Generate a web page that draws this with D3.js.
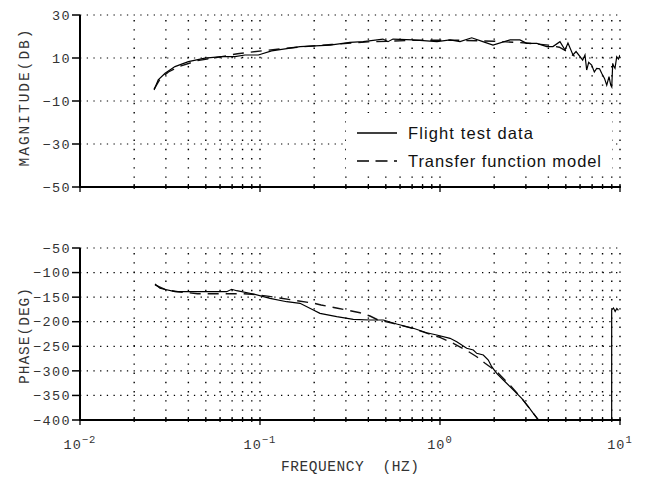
<!DOCTYPE html>
<html>
<head>
<meta charset="utf-8">
<script src="https://cdn.jsdelivr.net/npm/d3@7"></script>
<style>
  body { margin: 0; background: #fff; }
  svg { display: block; }
</style>
</head>
<body>
<script>
const wdth = 645;
const hght = 478;

// magnitude, flight test data (Hz, dB)
const magFreq = [0.0258, 0.0272, 0.0297, 0.0337, 0.0400, 0.0495, 0.0613, 0.0726, 0.0825, 0.0979,
  0.116, 0.144, 0.167, 0.245, 0.316, 0.374, 0.482, 0.514, 0.548, 0.708, 0.962, 1.137, 1.292,
  1.50, 1.73, 1.97, 2.45, 2.78, 3.03, 3.45, 3.92, 4.24, 4.64, 4.95, 5.14, 5.48, 5.7, 6.00, 6.2,
  6.39, 6.53, 6.7, 6.96, 7.2, 7.42, 7.7, 7.91, 8.2, 8.44, 8.69, 8.88, 9.0, 9.11, 9.25, 9.38,
  9.59, 9.8, 10];
const magFlight = [-4.9, -0.2, 2.9, 6.0, 8.3, 9.9, 10.6, 10.6, 11.4, 11.4,
  13.3, 14.5, 15.3, 16.0, 17.3, 17.6, 18.8, 17.6, 18.8, 18.4, 17.6, 18.4, 17.6,
  19.4, 17.6, 16.0, 18.4, 18.4, 16.8, 16.8, 15.3, 15.3, 17.6, 13.7, 17.0, 11.4, 13.0, 10.6, 9.0,
  11.4, 4.4, 8.0, 6.7, 3.5, 5.2, 5.0, 2.9, 0.5, -2.6, 1.3, -2.6, -3.5, 7.5, 6.0, 5.2,
  10.6, 9.5, 11.4];

// magnitude, transfer function model
const magModelFreq = [0.0258, 0.028, 0.031, 0.036, 0.045, 0.06, 0.075, 0.11, 0.15, 0.25, 0.4,
  0.7, 1.2, 2.0, 3.0, 4.0, 4.6, 5.2, 5.6];
const magModel = [-4.5, 0.5, 3.5, 6.2, 8.8, 10.5, 12.0, 13.6, 14.8, 16.3, 17.5,
  18.2, 18.3, 17.8, 17.0, 16.0, 15.0, 12.5, 10.8];

// phase, flight test data (Hz, deg)
const phaseFreq = [0.0261, 0.0278, 0.0337, 0.0483, 0.0653, 0.0696, 0.0742, 0.0918, 0.1137, 0.1407,
  0.1668, 0.1978, 0.2154, 0.2668, 0.3299, 0.4084, 0.4842, 0.5746, 0.7109, 0.8435, 0.9587, 1.137,
  1.2386, 1.407, 1.531, 1.600, 1.740, 1.855, 1.938, 2.065, 2.248, 2.448, 2.668, 2.844, 3.095,
  3.299, 3.503, 3.8, 4.5, 5.5, 6.5, 7.5, 8.5, 8.99, 8.99, 9.2, 9.4, 9.6, 9.8];
const phaseFlight = [-123.3, -132.0, -138.9, -138.9, -138.9, -134.0, -136.9, -143.6, -152.4, -159.3,
  -162.5, -176.2, -182.9, -189.8, -195.1, -196.5, -196.5, -204.7, -213.4, -222.4, -227.0, -233.8,
  -240.7, -254.1, -257.6, -264.3, -267.7, -277.9, -291.5, -305.0, -318.6, -332.2, -345.7, -355.9, -372.9,
  -386.3, -398.6, -420, -440, -470, -490, -510, -525, -540, -176, -172, -179, -173, -177];

// phase, transfer function model
const phaseModelFreq = [0.0261, 0.030, 0.035, 0.045, 0.06, 0.08, 0.09, 0.11, 0.20, 0.2185, 0.27,
  0.304, 0.3594, 0.4084, 0.45, 0.575, 0.711, 0.88, 1.0, 1.2, 1.407, 1.6, 1.78, 2.065, 2.448,
  2.844, 3.299, 3.50, 3.7];
const phaseModel = [-125, -135, -139, -143, -143, -143, -144, -148, -162.5, -166, -172.7,
  -176.2, -181.7, -188.4, -196, -205, -214, -225.5, -232, -245, -258.6, -271.2, -284.6, -301.7, -328.8,
  -355.9, -386.3, -398.6, -410];

const magTicks = [30, 10, -10, -30, -50];
const phaseTicks = [-50, -100, -150, -200, -250, -300, -350, -400];
const decadeTicks = [0.01, 0.1, 1, 10];
const decadeLabels = ["-2", "-1", "0", "1"];

const left = 80, right = 620;
const x = d3.scaleLog().domain([0.01, 10]).range([left, right]);
const yMag = d3.scaleLinear().domain([-50, 30]).range([187, 15]);
const yPhase = d3.scaleLinear().domain([-400, -50]).range([420, 248]);

// every 1..9 x 10^k position
const minorTicks = [];
[0.01, 0.1, 1].forEach(d => { for (let k = 1; k < 10; k++) minorTicks.push(d * k); });
minorTicks.push(10);

const svg = d3.select("body").append("svg")
  .attr("width", wdth)
  .attr("height", hght);

function drawPanel(id, y, ticks) {
  const g = svg.append("g");
  const [y0, y1] = y.range();

  // vertical dotted grid
  g.selectAll(".vgrid").data(minorTicks.slice(1)).enter()
    .append("line")
    .attr("x1", d => x(d)).attr("x2", d => x(d))
    .attr("y1", y0).attr("y2", y1)
    .attr("stroke", "#000")
    .attr("stroke-width", 1.4)
    .attr("stroke-dasharray", "1.4,7.8");

  // horizontal dotted grid (not on the bottom axis)
  g.selectAll(".hgrid").data(ticks.filter(d => d !== y.domain()[0])).enter()
    .append("line")
    .attr("x1", left).attr("x2", right)
    .attr("y1", d => y(d)).attr("y2", d => y(d))
    .attr("stroke", "#000")
    .attr("stroke-width", 1.2)
    .attr("stroke-dasharray", "1.3,5.4");

  g.append("clipPath").attr("id", id)
    .append("rect")
    .attr("x", left).attr("y", y1 - 2)
    .attr("width", right - left).attr("height", y0 - y1 + 2);

  return g;
}

function drawAxes(g, y, ticks, label, labelLen, labelY) {
  const [y0, y1] = y.range();
  // y axis
  g.append("line")
    .attr("x1", left).attr("x2", left)
    .attr("y1", y1).attr("y2", y0 + 1)
    .attr("stroke", "#000").attr("stroke-width", 2);
  g.selectAll(".ytick").data(ticks).enter()
    .append("line")
    .attr("x1", left - 8).attr("x2", left)
    .attr("y1", d => y(d)).attr("y2", d => y(d))
    .attr("stroke", "#000").attr("stroke-width", 1.5);
  g.selectAll(".ylab").data(ticks).enter()
    .append("text")
    .attr("x", left - 9)
    .attr("y", d => y(d))
    .attr("dy", "0.35em")
    .attr("text-anchor", "end")
    .style("font-family", "'Liberation Mono', 'DejaVu Sans Mono', monospace")
    .style("font-size", "13.5px")
    .style("letter-spacing", "1.4px")
    .attr("fill", "#333")
    .text(d => String(d).replace("-", "\u2212"));

  // x axis
  g.append("line")
    .attr("x1", left - 1).attr("x2", right + 1)
    .attr("y1", y0).attr("y2", y0)
    .attr("stroke", "#000").attr("stroke-width", 2);
  g.selectAll(".xtick").data(minorTicks).enter()
    .append("line")
    .attr("x1", d => x(d)).attr("x2", d => x(d))
    .attr("y1", y0 - 3)
    .attr("y2", d => decadeTicks.includes(d) ? y0 + 5 : y0 + 2)
    .attr("stroke", "#000").attr("stroke-width", 1.3);

  g.append("text")
    .attr("transform", `translate(29,${labelY}) rotate(-90)`)
    .attr("text-anchor", "middle")
    .attr("textLength", labelLen)
    .attr("lengthAdjust", "spacing")
    .style("font-family", "'Liberation Mono', 'DejaVu Sans Mono', monospace")
    .style("font-size", "14.5px")
    .attr("fill", "#333")
    .text(label);
}

const seriesLine = (fs, vs, y) => d3.line()
  .x((d, i) => x(fs[i]))
  .y(d => y(d))(vs);

// magnitude panel
const gMag = drawPanel("clipMag", yMag, magTicks);

// legend box
const legend = gMag.append("g");
legend.append("rect")
  .attr("x", 346).attr("y", 113)
  .attr("width", 266).attr("height", 61)
  .attr("fill", "#fff");

const legendData = [
  { name: "Flight test data", dash: null, y: 133, len: 125 },
  { name: "Transfer function model", dash: "12,6.5", y: 161, len: 193 }
];
legend.selectAll(".lline").data(legendData).enter()
  .append("line")
  .attr("x1", 357).attr("x2", 397)
  .attr("y1", d => d.y).attr("y2", d => d.y)
  .attr("stroke", "#000").attr("stroke-width", 1.4)
  .attr("stroke-dasharray", d => d.dash);
legend.selectAll(".ltext").data(legendData).enter()
  .append("text")
  .attr("x", 408).attr("y", d => d.y + 6)
  .attr("textLength", d => d.len)
  .attr("lengthAdjust", "spacing")
  .style("font-family", "'Liberation Sans', Arial, sans-serif")
  .style("font-size", "16.5px")
  .attr("fill", "#111")
  .text(d => d.name);

gMag.append("path")
  .attr("d", seriesLine(magModelFreq, magModel, yMag))
  .attr("clip-path", "url(#clipMag)")
  .attr("fill", "none").attr("stroke", "#111")
  .attr("stroke-width", 1.4).attr("stroke-dasharray", "11,7");
gMag.append("path")
  .attr("d", seriesLine(magFreq, magFlight, yMag))
  .attr("clip-path", "url(#clipMag)")
  .attr("fill", "none").attr("stroke", "#000")
  .attr("stroke-width", 1.2);
drawAxes(gMag, yMag, magTicks, "MAGNITUDE(DB)", 137, 98);

// phase panel
const gPh = drawPanel("clipPh", yPhase, phaseTicks);
gPh.append("path")
  .attr("d", seriesLine(phaseModelFreq, phaseModel, yPhase))
  .attr("clip-path", "url(#clipPh)")
  .attr("fill", "none").attr("stroke", "#111")
  .attr("stroke-width", 1.4).attr("stroke-dasharray", "11,7");
gPh.append("path")
  .attr("d", seriesLine(phaseFreq, phaseFlight, yPhase))
  .attr("clip-path", "url(#clipPh)")
  .attr("fill", "none").attr("stroke", "#000")
  .attr("stroke-width", 1.2);
drawAxes(gPh, yPhase, phaseTicks, "PHASE(DEG)", 96, 336);

// decade labels
const xl = svg.selectAll(".xlab").data(decadeTicks).enter()
  .append("text")
  .attr("x", d => x(d))
  .attr("y", 449)
  .attr("text-anchor", "middle")
  .style("font-family", "'Liberation Mono', 'DejaVu Sans Mono', monospace")
  .style("font-size", "13.5px")
  .style("letter-spacing", "1px")
  .attr("fill", "#333");
xl.append("tspan").text("10");
xl.append("tspan")
  .attr("dy", -6)
  .style("font-size", "10.5px")
  .text((d, i) => decadeLabels[i].replace("-", "\u2212"));

svg.append("text")
  .attr("x", 350).attr("y", 471)
  .attr("text-anchor", "middle")
  .attr("textLength", 138)
  .attr("lengthAdjust", "spacing")
  .style("font-family", "'Liberation Mono', 'DejaVu Sans Mono', monospace")
  .style("font-size", "14.5px")
  .style("white-space", "pre")
  .attr("fill", "#333")
  .text("FREQUENCY  (HZ)");
</script>
</body>
</html>
